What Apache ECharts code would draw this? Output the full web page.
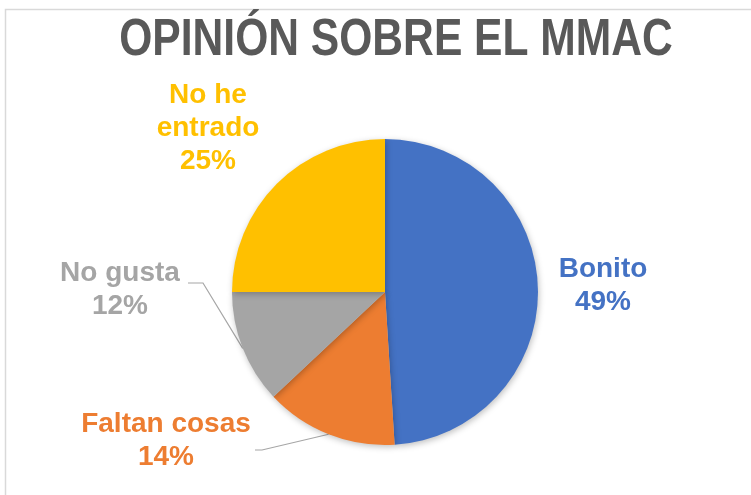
<!DOCTYPE html>
<html>
<head>
<meta charset="utf-8">
<script src="https://cdn.jsdelivr.net/npm/echarts@6/dist/echarts.min.js"></script>
<style>
  html, body { margin: 0; padding: 0; background: #fff; }
  #chart { width: 751px; height: 495px; }
</style>
</head>
<body>
<div id="chart"></div>
<script>
// datos
const categories = ['Bonito', 'Faltan cosas', 'No gusta', 'No he entrado'];
const values = [49, 14, 12, 25];
const labelTexts = ['Bonito', 'Faltan cosas', 'No gusta', 'No he\nentrado'];
const colors = ['#4472C4', '#ED7D31', '#A5A5A5', '#FFC000'];
const titleText = 'OPINIÓN SOBRE EL MMAC';

// posicion de cada etiqueta (centro) y codo de la linea guia
const labelPos = {
  'Bonito': { x: 603, y: 286 },
  'Faltan cosas': { x: 166, y: 441 },
  'No gusta': { x: 120, y: 290 },
  'No he entrado': { x: 208, y: 128 }
};
const lineElbow = {
  'Faltan cosas': [[262, 450], [255, 450]],
  'No gusta': [[203, 283], [188, 283]]
};

let myChart = echarts.init(document.getElementById('chart'));

let option = {
  color: colors,
  graphic: [{
    type: 'rect',
    shape: { x: 5.5, y: 9.5, width: 800, height: 600 },
    style: { fill: 'none', stroke: '#D9D9D9', lineWidth: 1.5 },
    silent: true
  }, {
    // titulo en letra estrecha (no hay Arial Narrow, se comprime a lo ancho)
    type: 'text',
    x: 396,
    y: 41,
    scaleX: 0.835,
    silent: true,
    style: {
      text: titleText,
      align: 'center',
      verticalAlign: 'middle',
      fontFamily: '"Liberation Sans", Arial, sans-serif',
      fontWeight: 'bold',
      fontSize: 51,
      fill: '#595959'
    }
  }],
  series: [{
    type: 'pie',
    center: [385, 292],
    radius: 153,
    startAngle: 90,
    clockwise: true,
    avoidLabelOverlap: false,
    animation: false,
    itemStyle: {
      borderWidth: 0,
      shadowBlur: 6,
      shadowOffsetX: 1,
      shadowOffsetY: 2,
      shadowColor: 'rgba(0,0,0,0.25)'
    },
    label: {
      show: true,
      position: 'outside',
      fontFamily: '"Liberation Sans", Arial, sans-serif',
      fontWeight: 'bold',
      fontSize: 28,
      lineHeight: 33,
      align: 'center',
      formatter: function (p) {
        return labelTexts[p.dataIndex] + '\n' + Math.round(p.percent) + '%';
      }
    },
    labelLine: {
      show: true,
      length: 10,
      length2: 10,
      lineStyle: { color: '#A6A6A6', width: 1.2 }
    },
    labelLayout: function (params) {
      const name = categories[params.dataIndex];
      const pos = labelPos[name];
      const res = { x: pos.x, y: pos.y, align: 'center', verticalAlign: 'middle' };
      if (lineElbow[name] && params.labelLinePoints) {
        res.labelLinePoints = [params.labelLinePoints[0]].concat(lineElbow[name]);
      } else {
        res.labelLinePoints = [[0, 0], [0, 0], [0, 0]];
      }
      return res;
    },
    data: categories.map(function (c, i) {
      return {
        name: c,
        value: values[i],
        label: { color: colors[i] },
        labelLine: { show: !!lineElbow[c] }
      };
    })
  }]
};

myChart.setOption(option);
</script>
</body>
</html>
